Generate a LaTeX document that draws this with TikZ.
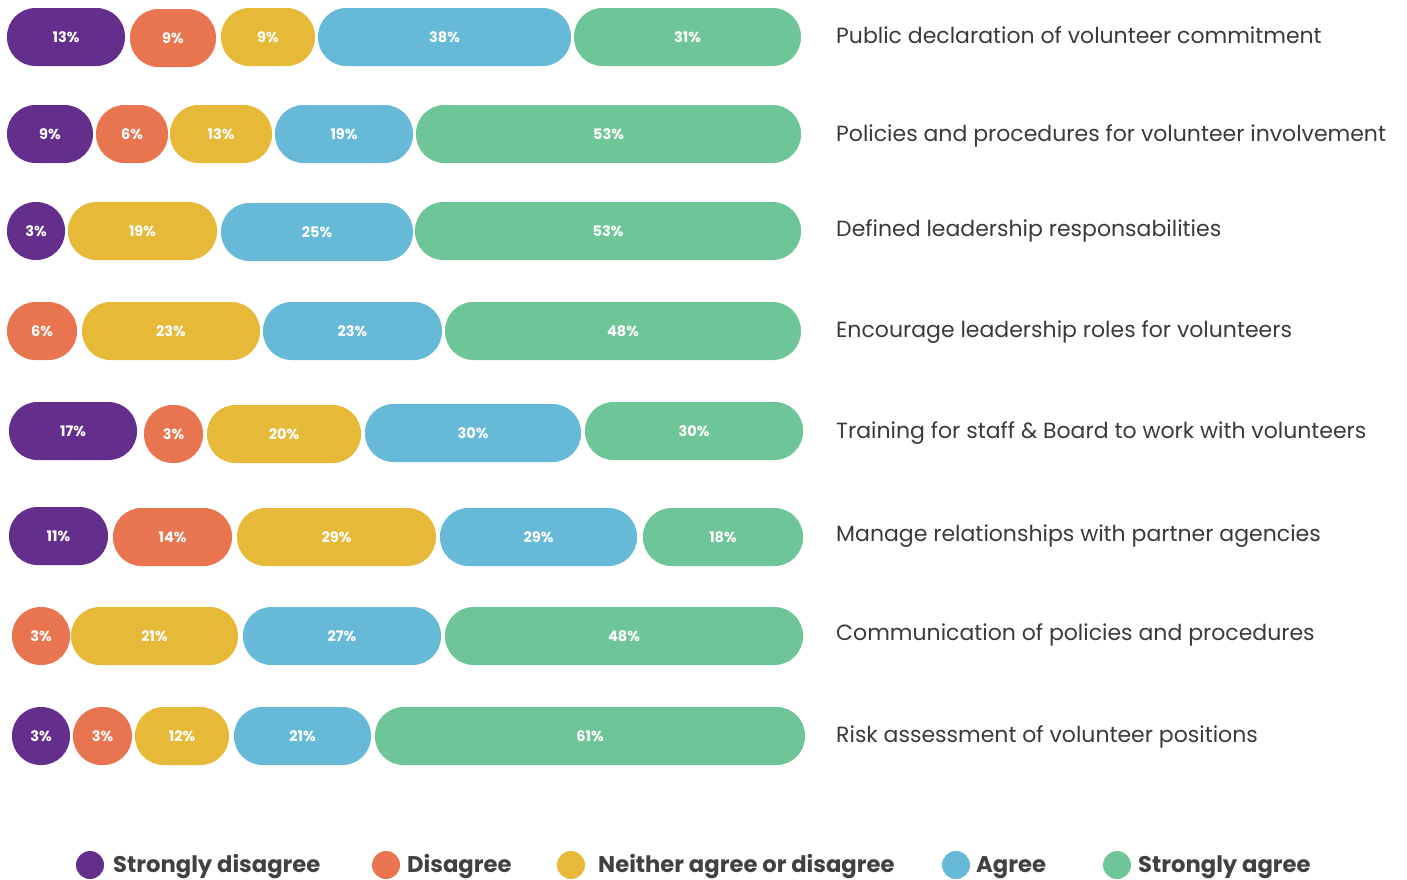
\documentclass[tikz,border=0pt]{standalone}
\usepackage{fontspec}
\setmainfont{Poppins}
\usepackage{tikz}
\usetikzlibrary{positioning}
\definecolor{sdcol}{HTML}{642E8D}
\definecolor{dcol}{HTML}{E8754F}
\definecolor{ncol}{HTML}{E6B939}
\definecolor{acol}{HTML}{67B9D8}
\definecolor{sacol}{HTML}{6EC597}
\definecolor{txtcol}{HTML}{3A3A3A}
\definecolor{keytxt}{HTML}{414042}

\begin{document}
\begin{tikzpicture}[x=1pt, y=-1pt,
        pill/.style={rectangle, rounded corners=28.5pt, minimum height=58pt,
            inner sep=0pt, text=white, font=\bfseries\fontsize{14.5}{15}\selectfont},
        question/.style={anchor=base west, inner sep=0pt, text=txtcol,
            font=\fontsize{22}{24}\selectfont},
        keydot/.style={circle, minimum size=28pt, inner sep=0pt},
        keytext/.style={anchor=base west, inner sep=0pt, text=keytxt,
            font=\bfseries\fontsize{22.7}{24}\selectfont}]
        \useasboundingbox (0,0) rectangle (1407,879);

        % row 1
        \node[pill, fill=sdcol, minimum width=118] (r1sd) at (66,37) {13\%};
        \node[pill, fill=dcol, minimum width=86] (r1d) at (173,38) {9\%};
        \node[pill, fill=ncol, minimum width=94] (r1n) at (268,37) {9\%};
        \node[pill, fill=acol, minimum width=253] (r1a) at (444.5,37) {38\%};
        \node[pill, fill=sacol, minimum width=227] (r1sa) at (687.5,37) {31\%};
        \node[question] (q1) at (836,43) {Public declaration of volunteer commitment};

        % row 2
        \node[pill, fill=sdcol, minimum width=86] (r2sd) at (50,134) {9\%};
        \node[pill, fill=dcol, minimum width=72] (r2d) at (132,134) {6\%};
        \node[pill, fill=ncol, minimum width=102] (r2n) at (221,134) {13\%};
        \node[pill, fill=acol, minimum width=138] (r2a) at (344,134) {19\%};
        \node[pill, fill=sacol, minimum width=385] (r2sa) at (608.5,134) {53\%};
        \node[question] (q2) at (836,141) {Policies and procedures for volunteer involvement};

        % row 3
        \node[pill, fill=sdcol, minimum width=58] (r3sd) at (36,231) {3\%};
        \node[pill, fill=ncol, minimum width=149] (r3n) at (142.5,231) {19\%};
        \node[pill, fill=acol, minimum width=192] (r3a) at (317,232) {25\%};
        \node[pill, fill=sacol, minimum width=386] (r3sa) at (608,231) {53\%};
        \node[question] (q3) at (836,236) {Defined leadership responsabilities};

        % row 4
        \node[pill, fill=dcol, minimum width=70] (r4d) at (42,331) {6\%};
        \node[pill, fill=ncol, minimum width=178] (r4n) at (171,331) {23\%};
        \node[pill, fill=acol, minimum width=179] (r4a) at (352.5,331) {23\%};
        \node[pill, fill=sacol, minimum width=356] (r4sa) at (623,331) {48\%};
        \node[question] (q4) at (836,337) {Encourage leadership roles for volunteers};

        % row 5
        \node[pill, fill=sdcol, minimum width=128] (r5sd) at (73,431) {17\%};
        \node[pill, fill=dcol, minimum width=59] (r5d) at (173.5,434) {3\%};
        \node[pill, fill=ncol, minimum width=154] (r5n) at (284,434) {20\%};
        \node[pill, fill=acol, minimum width=216] (r5a) at (473,433) {30\%};
        \node[pill, fill=sacol, minimum width=218] (r5sa) at (694,431) {30\%};
        \node[question] (q5) at (836,438) {Training for staff \& Board to work with volunteers};

        % row 6
        \node[pill, fill=sdcol, minimum width=99] (r6sd) at (58.5,536) {11\%};
        \node[pill, fill=dcol, minimum width=119] (r6d) at (172.5,537) {14\%};
        \node[pill, fill=ncol, minimum width=199] (r6n) at (336.5,537) {29\%};
        \node[pill, fill=acol, minimum width=197] (r6a) at (538.5,537) {29\%};
        \node[pill, fill=sacol, minimum width=160] (r6sa) at (723,537) {18\%};
        \node[question] (q6) at (836,541) {Manage relationships with partner agencies};

        % row 7
        \node[pill, fill=dcol, minimum width=58] (r7d) at (41,636) {3\%};
        \node[pill, fill=ncol, minimum width=167] (r7n) at (154.5,636) {21\%};
        \node[pill, fill=acol, minimum width=198] (r7a) at (342,636) {27\%};
        \node[pill, fill=sacol, minimum width=358] (r7sa) at (624,636) {48\%};
        \node[question] (q7) at (836,640) {Communication of policies and procedures};

        % row 8
        \node[pill, fill=sdcol, minimum width=58] (r8sd) at (41,736) {3\%};
        \node[pill, fill=dcol, minimum width=59] (r8d) at (102.5,736) {3\%};
        \node[pill, fill=ncol, minimum width=94] (r8n) at (182,736) {12\%};
        \node[pill, fill=acol, minimum width=137] (r8a) at (302.5,736) {21\%};
        \node[pill, fill=sacol, minimum width=430] (r8sa) at (590,736) {61\%};
        \node[question] (q8) at (836,742) {Risk assessment of volunteer positions};

        % legend
        \node[keydot, fill=sdcol] (ksd) at (90,865) {};
        \node[keytext] (ksdt) at (113,872) {Strongly disagree};
        \node[keydot, fill=dcol] (kd) at (386,865) {};
        \node[keytext] (kdt) at (407,872) {Disagree};
        \node[keydot, fill=ncol] (kn) at (571,865) {};
        \node[keytext] (knt) at (598,872) {Neither agree or disagree};
        \node[keydot, fill=acol] (ka) at (956,865) {};
        \node[keytext] (kat) at (976,872) {Agree};
        \node[keydot, fill=sacol] (ksa) at (1117,865) {};
        \node[keytext] (ksat) at (1138,872) {Strongly agree};
        \end{tikzpicture}
\end{document}
